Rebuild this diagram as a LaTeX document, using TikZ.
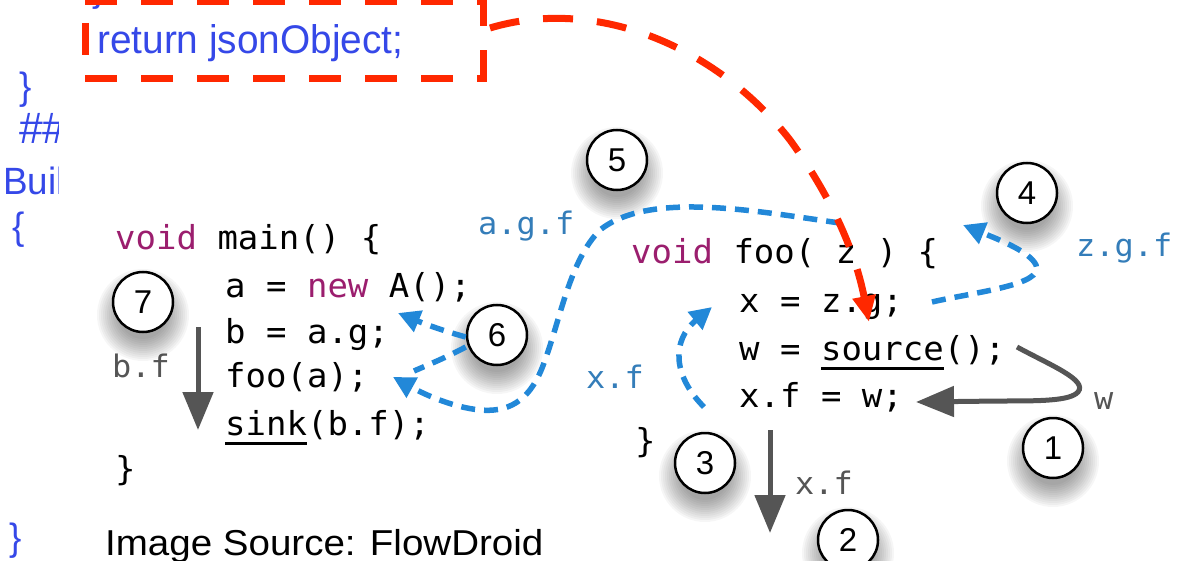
\documentclass[tikz,border=0pt]{standalone}
\usepackage{fontspec}
\setmainfont{Liberation Sans}
\newfontfamily\codefont[FakeStretch=1.03]{DejaVu Sans Mono}
\newfontfamily\slidefont[FakeStretch=0.97]{Liberation Sans}
\newfontfamily\srcfont[FakeStretch=1.07]{Liberation Sans}
\usetikzlibrary{arrows.meta}
\definecolor{slideblue}{RGB}{53,72,232}
\definecolor{tred}{RGB}{255,40,0}
\definecolor{flowblue}{RGB}{34,136,216}
\definecolor{lblblue}{RGB}{52,125,185}
\definecolor{kwcol}{RGB}{155,30,110}
\definecolor{arrgray}{RGB}{85,85,85}
\newcommand\kwd[1]{\textcolor{kwcol}{#1}}
\newcommand\myul[1]{\setbox0\hbox{#1}\rlap{\rule[-10pt]{\wd0}{3pt}}\box0}
\newcommand\numc[4]{%
  \foreach \rr in {46,44,...,24}{\fill[black,opacity=0.035] (#2,#3+13) circle (\rr);}
  \node[numcirc] (#1) at (#2,#3) {#4};}
\tikzset{
  code/.style={anchor=base west,inner sep=0pt,font=\codefont\fontsize{33}{38}\selectfont},
  lbl/.style={anchor=base west,inner sep=0pt,font=\codefont\fontsize{31}{36}\selectfont},
  slide/.style={anchor=base west,inner sep=0pt,text=slideblue,font=\slidefont\fontsize{38}{42}\selectfont},
  numcirc/.style={circle,draw=black,line width=2.5pt,fill=white,minimum size=60pt,inner sep=0pt,
    font=\fontsize{33}{36}\selectfont},
  flowarrow/.style={draw=flowblue,line width=5.5pt,dash pattern=on 14pt off 9pt,
    -{Triangle[length=22pt,width=22pt]}},
  flowline/.style={draw=flowblue,line width=5.5pt,dash pattern=on 14pt off 9pt},
  redarrow/.style={draw=tred,line width=7pt,dash pattern=on 30pt off 24pt,
    -{Triangle[length=26pt,width=22pt]}},
  redline/.style={draw=tred,line width=7pt},
  grayarrow/.style={draw=arrgray,line width=5pt,-{Triangle[length=38pt,width=30pt]}},
}
\begin{document}
\begin{tikzpicture}[x=1pt,y=-1pt]
\useasboundingbox (0,0) rectangle (1177,561);
\begin{scope}
\clip (0,0) rectangle (1177,561);
% left strip of the slide behind the image
\begin{scope}
\clip (0,0) rectangle (58,561);
\node[slide] (ls1) at (19,100) {\}};
\node[slide,font=\slidefont\fontsize{44}{48}\selectfont] (ls2) at (19,144) {\#\#};
\node[slide] (ls3) at (3,195) {Buil};
\node[slide] (ls4) at (12,240) {\{};
\end{scope}
\node[slide] (ls5) at (9,550) {\}};
\node[slide] (ls0) at (92,2) {\}};

% red dashed box
\draw[redline,dash pattern=on 32pt off 24pt] (85,2) -- (487,2);
\draw[redline,dash pattern=on 32pt off 24pt] (85,79) -- (487,79);
\draw[redline] (85,23) -- (85,55);
\draw[redline,dash pattern=on 32pt off 24pt] (483,82) -- (483,-10);
\node[slide,font=\slidefont\fontsize{40}{44}\selectfont] (ret) at (97,54) {return jsonObject;};

% main()
\node[code] (m0) at (115,250) {\kwd{void} main() \{};
\node[code] (m1) at (225,297) {a = \kwd{new} A();};
\node[code] (m2) at (225,343) {b = a.g;};
\node[code] (m3) at (225,387) {foo(a);};
\node[code] (m4) at (225,435) {\myul{sink}(b.f);};
\node[code] (m5) at (115,480) {\}};

% foo()
\node[code] (f0) at (631,263) {\kwd{void} foo( z ) \{};
\node[code] (f1) at (739,312) {x = z.g;};
\node[code] (f2) at (739,360) {w = \myul{source}();};
\node[code] (f3) at (739,407) {x.f = w;};
\node[code] (f4) at (635,452) {\}};

% labels
\node[lbl,text=arrgray] (lbf) at (112,377) {b.f};
\node[lbl,text=lblblue] (lagf) at (478,235) {a.g.f};
\node[lbl,text=lblblue] (lxf) at (586,388) {x.f};
\node[lbl,text=lblblue] (lzgf) at (1076,256) {z.g.f};
\node[lbl,text=arrgray] (lw) at (1094,409) {w};
\node[lbl,text=arrgray] (lxf2) at (795,494) {x.f};

% number circles
\numc{c7}{143}{302}{7}
\numc{c6}{497}{335}{6}
\numc{c5}{617}{160}{5}
\numc{c4}{1027}{193}{4}
\numc{c3}{705}{463}{3}
\numc{c2}{848}{540}{2}
\numc{c1}{1053}{448}{1}

% coordinates for connector ends
\coordinate (g7s) at (198,327);
\coordinate (g7t) at (198,430);
\coordinate (g2s) at (770,430);
\coordinate (g2t) at (770,533);
\coordinate (g1s) at (1017,347);
\coordinate (g1t) at (916,402);
\coordinate (b4s) at (932,302);
\coordinate (b4t) at (963,225);
\coordinate (b5s) at (840,223);
\coordinate (fooa) at (393,377);
\coordinate (merge) at (414,371);
\coordinate (b6u) at (398,313);
\coordinate (b3s) at (704,407);
\coordinate (b3t) at (712,307);
\coordinate (rs) at (490,28);
\coordinate (rt) at (869,322);

% gray arrows
\draw[grayarrow] (g7s) -- (g7t);
\draw[grayarrow] (g2s) -- (g2t);
\draw[grayarrow] (g1s) .. controls (1050,365) and (1088,380) .. (1078,392)
  .. controls (1070,401) and (1040,401) .. (1000,401) -- (g1t);

% blue dashed arrows
\draw[flowarrow] (b4s) .. controls (975,292) and (1045,285) .. (1036,265)
  .. controls (1030,252) and (1000,240) .. (b4t);
\draw[flowarrow] (b5s) .. controls (760,212) and (650,190) .. (600,230)
  .. controls (570,260) and (560,320) .. (545,360)
  .. controls (530,405) and (505,412) .. (480,410)
  .. controls (450,407) and (420,392) .. (fooa);
\draw[flowline] (c6.west) ++(0,12) .. controls (445,358) and (430,364) .. (merge);
\draw[flowarrow] (c6.west) ++(0,2) .. controls (440,330) and (420,322) .. (b6u);
\draw[flowarrow] (b3s) .. controls (672,375) and (672,340) .. (b3t);

% red dashed arrow
\draw[redarrow] (rs) .. controls (600,-5) and (720,50) .. (790,140)
  .. controls (830,195) and (855,250) .. (rt);

\node[anchor=base west,inner sep=0pt,font=\srcfont\fontsize{36}{40}\selectfont] (src) at (105,555) {Image Source: FlowDroid};
\end{scope}
\end{tikzpicture}
\end{document}
